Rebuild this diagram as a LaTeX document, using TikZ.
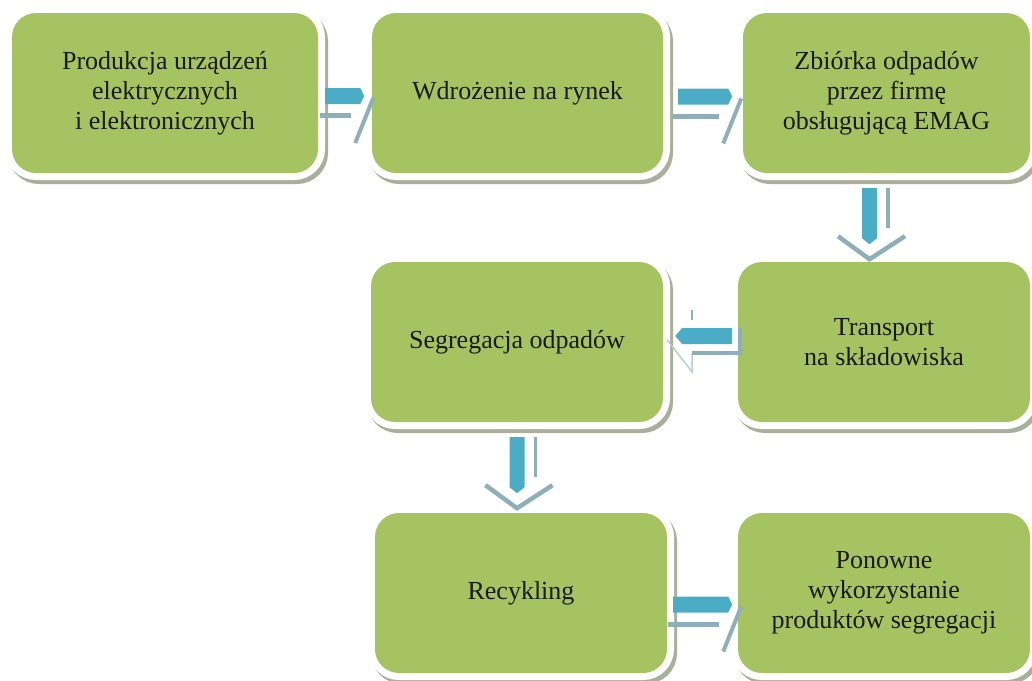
\documentclass[tikz,border=0pt]{standalone}
\usepackage{fontspec}
\setmainfont{Liberation Serif}
\usetikzlibrary{calc}
\definecolor{boxgreen}{HTML}{A5C360}
\definecolor{shgrey}{HTML}{AAAF9B}
\definecolor{arrowblue}{HTML}{4BACC6}
\definecolor{arrowgrey}{HTML}{8EAFB8}
\definecolor{arrowlight}{HTML}{B9CDD3}
\tikzset{
  x=1pt, y=-1pt,
  box/.style={fill=boxgreen, rounded corners=24pt, inner sep=0pt,
    minimum height=160pt, align=center, text=black!90,
    font=\fontsize{26}{30}\selectfont,
    preaction={fill=shgrey, draw=shgrey, line width=14pt,
      transform canvas={shift={(3pt,-4pt)}}},
    preaction={draw=white, line width=14pt}},
  rarrow/.pic={
    \fill[arrowgrey] (-5,17) rectangle (#1-9,22);
    \draw[arrowgrey, line width=4pt] (#1+13,2) -- (#1-5,47);
    \fill[arrowblue] (0,-8) -- (#1,-8) -- (#1+4,0) -- (#1,8) -- (0,8) -- cycle;
  },
  darrow/.pic={
    \draw[arrowgrey, line width=3.5pt] (18.5,0) -- (18.5,40);
    \draw[arrowgrey, line width=4.5pt] (-31.5,48) -- (0,71) -- (35.5,48);
    \fill[arrowblue] (-7.5,0) -- (7.5,0) -- (7.5,50) -- (0,56) -- (-7.5,50) -- cycle;
  },
  larrow/.pic={
    \draw[arrowlight, line width=1.5pt] (-8,4) -- (17,36) -- (17,17);
    \draw[arrowgrey, line width=2pt] (17,-26) -- (17,-16);
    \draw[arrowgrey, line width=4pt] (65,-8) -- (65,17) -- (17,17);
    \fill[arrowblue] (0,0) -- (7,-8) -- (57,-8) -- (57,8) -- (7,8) -- cycle;
  }
}
\begin{document}
\begin{tikzpicture}
\useasboundingbox (0,0) rectangle (1032,680);
\node[box, minimum width=306pt] (b1) at (165,93) {Produkcja urządzeń\\elektrycznych\\i elektronicznych};
\node[box, minimum width=291pt] (b2) at (517.5,93) {Wdrożenie na rynek};
\node[box, minimum width=287pt] (b3) at (886.5,93) {Zbiórka odpadów\\przez firmę\\obsługującą EMAG};
\node[box, minimum width=292pt] (b4) at (517,342) {Segregacja odpadów};
\node[box, minimum width=292pt] (b5) at (884,342) {Transport\\na składowiska};
\node[box, minimum width=292pt] (b6) at (521,593) {Recykling};
\node[box, minimum width=292pt] (b7) at (884,593) {Ponowne\\wykorzystanie\\produktów segregacji};
\pic at ($(b1.east)+(7,3)$) {rarrow=35};
\pic at ($(b2.east)+(15,3.5)$) {rarrow=50};
\pic at ($(b3.south)+(-17,15)$) {darrow};
\pic at ($(b4.east)+(12,-6)$) {larrow};
\pic at ($(b4.south)+(0,15)$) {darrow};
\pic at ($(b6.east)+(6,11.5)$) {rarrow=55};
\end{tikzpicture}
\end{document}
